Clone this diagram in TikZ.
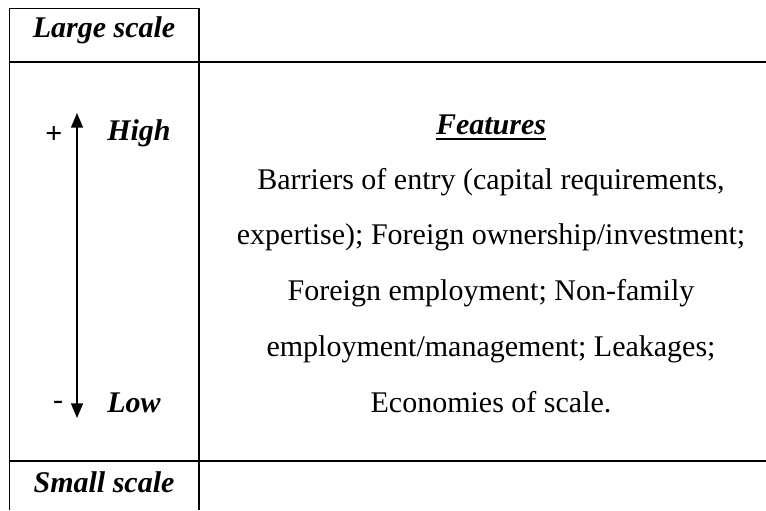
\documentclass[tikz,border=0pt]{standalone}
\usepackage{fontspec}
\setmainfont{Liberation Serif}
\usetikzlibrary{arrows.meta}
\tikzset{every node/.style={inner sep=0pt}}

\begin{document}
\begin{tikzpicture}[x=0.75pt,y=-0.75pt,>={Triangle[length=11pt,width=9pt]}]
\tikzset{rule/.style={line width=1.4pt},
  scalelab/.style={font=\fontsize{22.5}{27}\selectfont\bfseries\itshape,anchor=base},
  bodytext/.style={font=\fontsize{22.5}{41.8}\selectfont,align=center,anchor=base}}
\useasboundingbox (0,0) rectangle (766,510);

% frame of the table
\draw[rule] (9.5,8.5) -- (199,8.5);
\draw[rule] (9.5,8.5) -- (9.5,510);
\draw[rule] (199,8.5) -- (199,510);
\draw[rule] (9.5,62) -- (766,62);
\draw[rule] (9.5,461) -- (766,461);

% left column
\node[scalelab] (large) at (104,38) {Large scale};
\node[scalelab] (small) at (104,492) {Small scale};
\node[scalelab,anchor=base west] (high) at (107,140) {High};
\node[scalelab,anchor=base west] (low) at (107,412) {Low};
\node[font=\fontsize{22.5}{27}\selectfont\bfseries] (plus) at (54,135) {+};
\node[font=\fontsize{22.5}{27}\selectfont] (minus) at (58,405) {-};
\coordinate (up) at (77,113);
\coordinate (down) at (77,418);
\draw[line width=1.1pt,<->] (down) -- (up);

% right column
\node[scalelab] (feat) at (491,134) {Features};
\draw[line width=1.5pt] ([yshift=-4pt]feat.base west) -- ([yshift=-4pt]feat.base east);
% base of a multi-line node is its last line
\node[bodytext] (list) at (491,412) {Barriers of entry (capital requirements,\\
  expertise); Foreign ownership/investment;\\
  Foreign employment; Non-family\\
  employment/management; Leakages;\\
  Economies of scale.};

\end{tikzpicture}
\end{document}
